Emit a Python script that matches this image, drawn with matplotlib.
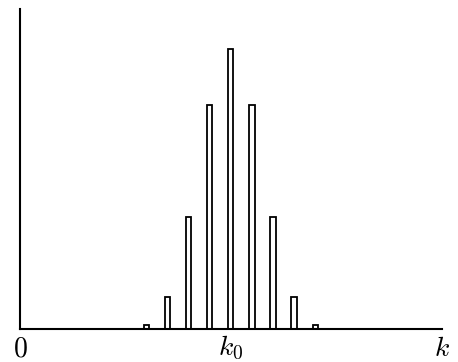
import numpy as np
import matplotlib
matplotlib.use("Agg")
import matplotlib.pyplot as plt

plt.rcParams['mathtext.fontset'] = 'cm'

# binomial-shaped distribution around k0
k_values = [6, 7, 8, 9, 10, 11, 12, 13, 14]
counts = [1, 8, 28, 56, 70, 56, 28, 8, 1]
tick_pos = [0, 10, 20]
tick_labels = [r'$0$', r'$k_0$', r'$k$']

fig = plt.figure(figsize=(4.58, 3.62), dpi=100)
ax = fig.add_axes([20 / 458, (362 - 328.7) / 362, 421.7 / 458, 319.4 / 362])

ax.bar(k_values, counts, width=0.25, facecolor='white', edgecolor='black', linewidth=1.3)

ax.set_xlim(0, 19.8)
ax.set_ylim(0, 80)
ax.spines['top'].set_visible(False)
ax.spines['right'].set_visible(False)
ax.spines['left'].set_linewidth(1.5)
ax.spines['bottom'].set_linewidth(1.5)
ax.set_yticks([])
ax.set_xticks(tick_pos)
ax.set_xticklabels(tick_labels, fontsize=20)
ax.tick_params(axis='x', length=0, pad=4)
for lab in ax.get_xticklabels():
    lab.set_clip_on(False)

fig.savefig("out.png", dpi=100)
